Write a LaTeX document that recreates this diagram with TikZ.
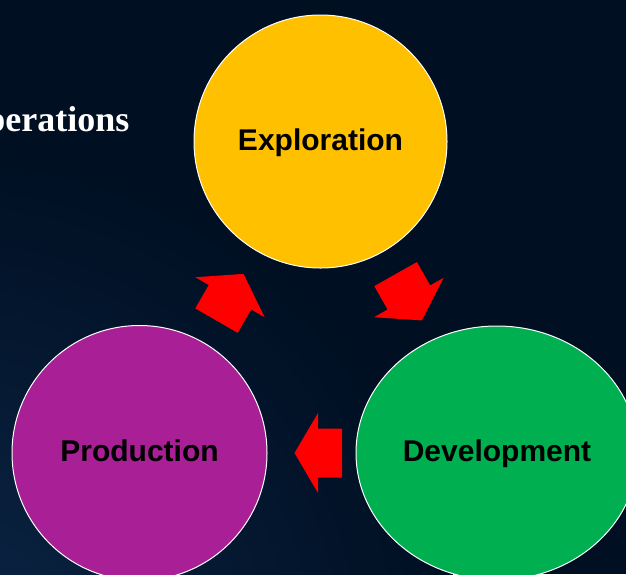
\documentclass[tikz,border=0pt]{standalone}
\usepackage{fontspec}
\setmainfont{Liberation Serif}
\newfontfamily\arialfont{Liberation Sans}
\usetikzlibrary{shapes.geometric,calc}
\definecolor{bgbase}{HTML}{000F22}
\definecolor{bglight}{HTML}{0C2647}
\definecolor{explyellow}{HTML}{FFC000}
\definecolor{devgreen}{HTML}{00B050}
\definecolor{prodpurple}{HTML}{A81F96}
\definecolor{arrowred}{HTML}{FF0000}
\tikzset{
  stagecircle/.style={draw=white, line width=1pt, inner sep=0pt,
    font=\arialfont\bfseries\fontsize{30}{36}\selectfont, text=black,
    text height=21.5pt, text depth=4pt},
  blockarrowfill/.style={fill=arrowred, draw=none},
  titletext/.style={text=white, font=\bfseries\fontsize{36}{42}\selectfont, inner sep=0pt}
}
% #1 = length, #2 = head length
\newcommand{\myblockarrow}[2]{%
  \fill[blockarrowfill] (#1/2,0) -- (#1/2-#2,40) -- (#1/2-#2,24.5) -- (-#1/2,24.5)
    -- (-#1/2,-24.5) -- (#1/2-#2,-24.5) -- (#1/2-#2,-40) -- cycle;}
\begin{document}
\begin{tikzpicture}[x=1pt,y=-1pt]
\useasboundingbox (0,0) rectangle (626,574);
\begin{scope}
\clip (0,0) rectangle (626,574);
\fill[bgbase] (0,0) rectangle (626,574);
\shade[inner color=bglight, outer color=bgbase] (-60,660) circle (520);
\node[titletext, anchor=base east] (title) at (129.5,131.7) {perations};

\node[stagecircle, circle, fill=explyellow, minimum size=253pt] (E) at (320.5,141.5) {Exploration};
\node[stagecircle, circle, fill=prodpurple, minimum size=255pt] (P) at (139.5,453) {Production};
\node[stagecircle, ellipse, fill=devgreen, minimum width=282pt, minimum height=254pt] (D) at (497,453) {Development};

\coordinate (PE) at ($(P)!0.5!(E)$);
\coordinate (ED) at ($(E)!0.5!(D)$);
\coordinate (DP) at ($(D)!0.5!(P)$);

\begin{scope}[shift={(PE)}, rotate=60]
  \myblockarrow{54}{27}
\end{scope}
\begin{scope}[shift={(ED)}, rotate=-60.5]
  \myblockarrow{53.3}{26.4}
\end{scope}
\begin{scope}[shift={(DP)}, rotate=180]
  \myblockarrow{47.5}{23.5}
\end{scope}
\end{scope}
\end{tikzpicture}
\end{document}
